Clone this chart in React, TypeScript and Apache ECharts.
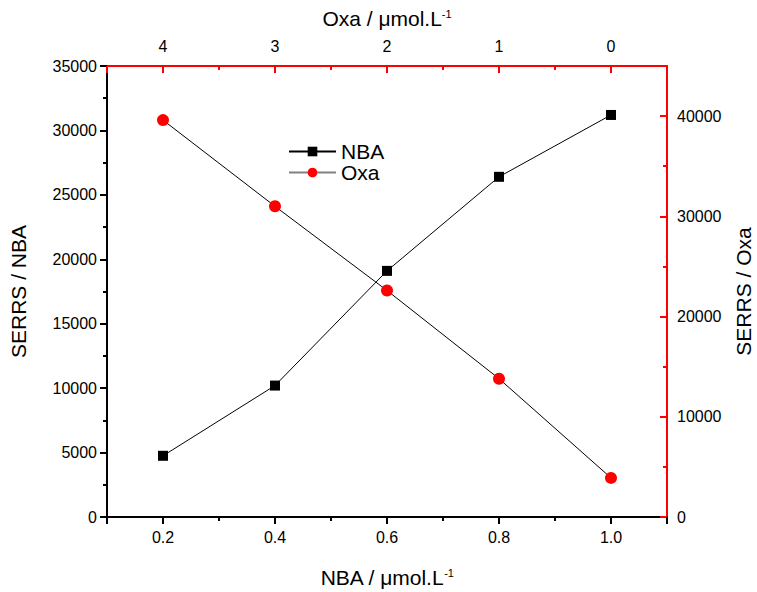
import React, { useEffect, useRef } from "react";
import * as echarts from "echarts";

const nbaConc = [0.2, 0.4, 0.6, 0.8, 1.0];
const nbaSignal = [4750, 10200, 19100, 26400, 31200];
const oxaConc = [4, 3, 2, 1, 0];
const oxaSignal = [39600, 31000, 22600, 13800, 3900];

const FONT = "Liberation Sans";

export default function App() {
  const ref = useRef<HTMLDivElement>(null);
  useEffect(() => {
    if (!ref.current) return;
    const chart = echarts.init(ref.current, null, { renderer: "svg" });
    const titleRich = {
      a: { fontSize: 21, fontFamily: FONT, color: "#000" },
      s: { fontSize: 11, fontFamily: FONT, color: "#000", verticalAlign: "top", padding: [0, 0, 10, 0] },
    };
    const plain = (v: number) => String(v);
    const option: any = {
      animation: false,
      backgroundColor: "#fff",
      textStyle: { fontFamily: FONT },
      grid: { left: 107, right: 90, top: 66, bottom: 75, containLabel: false, outerBoundsMode: "none" },
      legend: {
        orient: "vertical",
        left: 283,
        top: 136,
        itemWidth: 47,
        itemHeight: 12,
        itemGap: 0,
        textStyle: { fontSize: 21, fontFamily: FONT, color: "#000" },
        data: [
          { name: "NBA" },
          { name: "Oxa", lineStyle: { color: "#808080" } },
        ],
      },
      xAxis: [
        {
          type: "value",
          position: "bottom",
          min: 0.1,
          max: 1.1,
          splitLine: { show: false },
          axisLine: { onZero: false, lineStyle: { color: "#000", width: 2 } },
          axisTick: { inside: false, length: 7, lineStyle: { color: "#000", width: 2 } },
          minorTick: { show: true, splitNumber: 2, length: 4, lineStyle: { color: "#000", width: 2 } },
          axisLabel: {
            showMinLabel: false,
            showMaxLabel: false,
            fontSize: 16,
            color: "#000",
            margin: 12,
            formatter: (v: number) => v.toFixed(1),
          },
          name: "{a|NBA / μmol.L}{s|-1}",
          nameLocation: "middle",
          nameGap: 50,
          nameTextStyle: { rich: titleRich },
        },
        {
          type: "value",
          position: "top",
          min: -0.5,
          max: 4.5,
          inverse: true,
          splitLine: { show: false },
          axisLine: { onZero: false, lineStyle: { color: "#ff0000", width: 2 } },
          axisTick: { inside: true, length: 7, lineStyle: { color: "#ff0000", width: 2 } },
          minorTick: { show: true, splitNumber: 2, length: 4, lineStyle: { color: "#ff0000", width: 2 } },
          axisLabel: {
            showMinLabel: false,
            showMaxLabel: false,
            fontSize: 16,
            color: "#000",
            margin: 12,
            formatter: plain,
          },
          name: "{a|Oxa / μmol.L}{s|-1}",
          nameLocation: "middle",
          nameGap: 37,
          nameTextStyle: { rich: titleRich },
        },
      ],
      yAxis: [
        {
          type: "value",
          position: "left",
          min: 0,
          max: 35000,
          interval: 5000,
          splitLine: { show: false },
          axisLine: { onZero: false, lineStyle: { color: "#000", width: 2 } },
          axisTick: { inside: false, length: 7, lineStyle: { color: "#000", width: 2 } },
          minorTick: { show: true, splitNumber: 2, length: 4, lineStyle: { color: "#000", width: 2 } },
          axisLabel: { fontSize: 16, color: "#000", margin: 10, formatter: plain },
          name: "SERRS / NBA",
          nameLocation: "middle",
          nameRotate: 90,
          nameGap: 78,
          nameTextStyle: { fontSize: 21, color: "#000", fontFamily: FONT },
        },
        {
          type: "value",
          position: "right",
          min: 0,
          max: 45000,
          interval: 10000,
          splitLine: { show: false },
          axisLine: { onZero: false, lineStyle: { color: "#ff0000", width: 2 } },
          axisTick: { inside: true, length: 7, lineStyle: { color: "#ff0000", width: 2 } },
          minorTick: { show: true, splitNumber: 2, length: 4, lineStyle: { color: "#ff0000", width: 2 } },
          axisLabel: { fontSize: 16, color: "#000", margin: 10, showMaxLabel: false, formatter: plain },
          name: "SERRS / Oxa",
          nameLocation: "middle",
          nameRotate: 90,
          nameGap: 66,
          nameTextStyle: { fontSize: 21, color: "#000", fontFamily: FONT },
        },
      ],
      series: [
        {
          name: "NBA",
          type: "line",
          xAxisIndex: 0,
          yAxisIndex: 0,
          data: nbaConc.map((x, i) => [x, nbaSignal[i]]),
          symbol: "rect",
          symbolSize: 10,
          itemStyle: { color: "#000" },
          lineStyle: { color: "#000", width: 1 },
          z: 3,
        },
        {
          name: "Oxa",
          type: "line",
          xAxisIndex: 1,
          yAxisIndex: 1,
          data: oxaConc.map((x, i) => [x, oxaSignal[i]]),
          symbol: "circle",
          symbolSize: 12,
          itemStyle: { color: "#ff0000" },
          lineStyle: { color: "#000", width: 1 },
          z: 3,
        },
      ],
    };
    chart.setOption(option);
    return () => chart.dispose();
  }, []);
  return (
    <div
      ref={ref}
      style={{ position: "fixed", left: 0, top: 0, width: 757, height: 592, background: "#fff" }}
    />
  );
}
